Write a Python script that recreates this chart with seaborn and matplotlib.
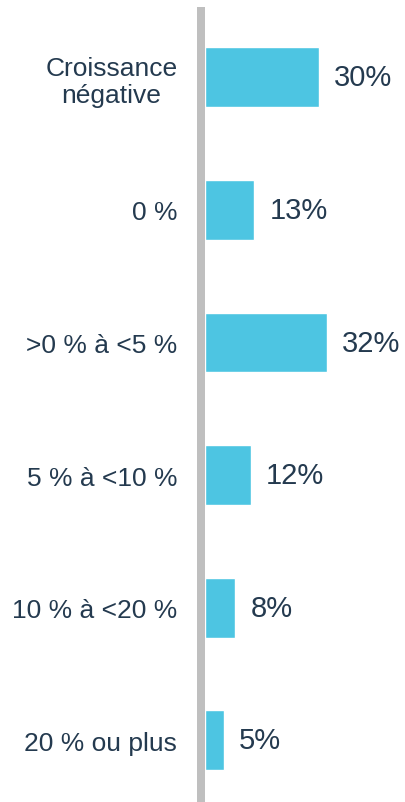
import matplotlib
matplotlib.use("Agg")
import matplotlib.pyplot as plt
import seaborn as sns
import pandas as pd

# data
categories = ["Croissance\nnégative", "0 %", ">0 % à <5 %", "5 % à <10 %", "10 % à <20 %", "20 % ou plus"]
values = [30, 13, 32, 12, 8, 5]
value_labels = ["30%", "13%", "32%", "12%", "8%", "5%"]

BAR_COLOR = "#4DC5E2"
TEXT_COLOR = "#243a4f"
AXIS_COLOR = "#BFBFBF"

sns.set_style("white")
plt.rcParams["font.family"] = ["Liberation Sans", "DejaVu Sans"]

df = pd.DataFrame({"cat": categories, "val": values})

fig = plt.figure(figsize=(4.05, 8.03), dpi=100)
ax = fig.add_axes([205 / 405, -4.6 / 803, 200 / 405, 795.6 / 803])

sns.barplot(data=df, y="cat", x="val", color=BAR_COLOR, width=0.45,
            saturation=1, ax=ax)

ax.set_xlim(0, 200 / 3.8)
ax.set_ylim(5.5, -0.5)
ax.set_xlabel("")
ax.set_ylabel("")
ax.set_xticks([])

for s in ["top", "right", "bottom"]:
    ax.spines[s].set_visible(False)
ax.spines["left"].set_color(AXIS_COLOR)
ax.spines["left"].set_linewidth(5.76)
ax.spines["left"].set_position(("outward", 2.9))

ax.tick_params(axis="y", length=0, pad=17, labelsize=19, labelcolor=TEXT_COLOR)
for t in ax.get_yticklabels():
    t.set_linespacing(1.15)
    t.set_multialignment("center")

ax.bar_label(ax.containers[0], labels=value_labels, padding=11,
             fontsize=21, color=TEXT_COLOR)

fig.savefig("out.png", dpi=100)
